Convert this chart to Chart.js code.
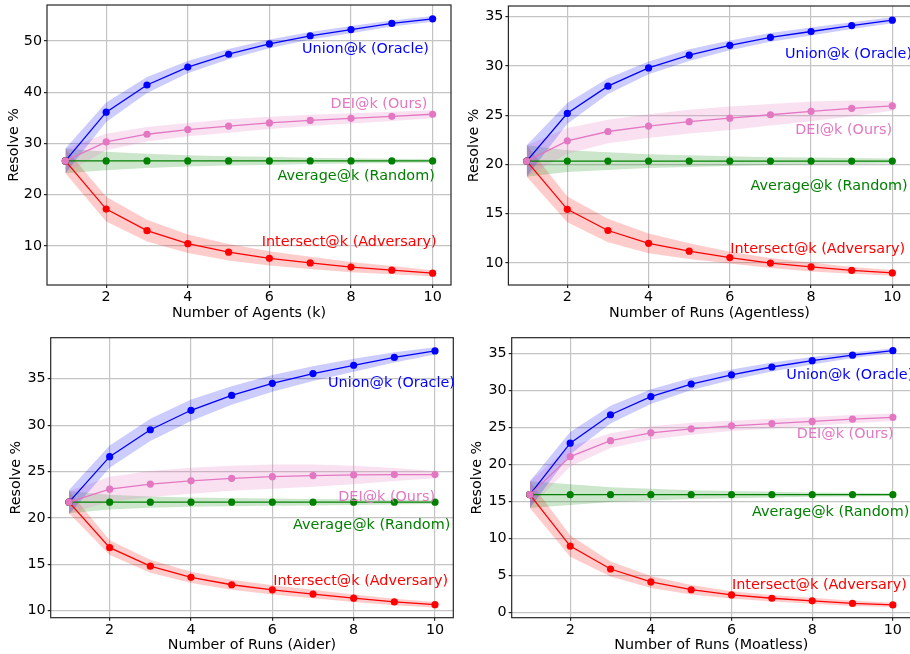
<!DOCTYPE html>
<html>
<head>
<meta charset="utf-8">
<script src="https://cdn.jsdelivr.net/npm/chart.js@4.4.1/dist/chart.umd.min.js"></script>
<style>
  html, body { margin: 0; padding: 0; background: #fff; overflow: hidden; }
  body { width: 910px; height: 654px; position: relative; }
  canvas { position: absolute; }
</style>
</head>
<body>
<canvas id="agents" width="460" height="325" style="left:0;top:0"></canvas>
<canvas id="agentless" width="460" height="325" style="left:455px;top:0"></canvas>
<canvas id="aider" width="460" height="329" style="left:0;top:325px"></canvas>
<canvas id="moatless" width="460" height="329" style="left:455px;top:325px"></canvas>
<script>
// x values and tick labels
const k = [1, 2, 3, 4, 5, 6, 7, 8, 9, 10];
const xTicks = [2, 4, 6, 8, 10];
const seriesNames = ['Union@k (Oracle)', 'DEI@k (Ours)', 'Average@k (Random)', 'Intersect@k (Adversary)'];

// Number of Agents (k)
const agentsUnion = [26.6, 36.1, 41.4, 44.9, 47.4, 49.4, 51.0, 52.2, 53.4, 54.3];
const agentsUnionSd = [2.4, 1.9, 1.55, 1.2, 1.0, 0.85, 0.75, 0.7, 0.6, 0.55];
const agentsDei = [26.6, 30.3, 31.8, 32.7, 33.4, 34.0, 34.5, 34.9, 35.3, 35.7];
const agentsDeiSd = [2.4, 1.6, 1.4, 1.3, 1.3, 1.2, 1.1, 1.0, 0.9, 0.8];
const agentsAvg = [26.6, 26.6, 26.6, 26.6, 26.6, 26.6, 26.6, 26.6, 26.6, 26.6];
const agentsAvgSd = [2.4, 1.8, 1.4, 1.1, 0.9, 0.8, 0.6, 0.5, 0.4, 0.35];
const agentsInter = [26.6, 17.2, 13.0, 10.45, 8.8, 7.6, 6.7, 5.9, 5.3, 4.7];
const agentsInterSd = [2.4, 2.4, 2.1, 1.8, 1.6, 1.4, 1.2, 1.0, 0.8, 0.6];
const agentsYTicks = [10, 20, 30, 40, 50];

// Number of Runs (Agentless)
const agentlessUnion = [20.35, 25.2, 27.95, 29.8, 31.1, 32.1, 32.9, 33.5, 34.1, 34.65];
const agentlessUnionSd = [1.6, 1.05, 0.8, 0.65, 0.6, 0.5, 0.45, 0.4, 0.35, 0.3];
const agentlessDei = [20.35, 22.4, 23.35, 23.9, 24.35, 24.7, 25.05, 25.4, 25.7, 25.95];
const agentlessDeiSd = [1.6, 1.3, 1.2, 1.2, 1.2, 1.2, 1.1, 1.0, 0.8, 0.5];
const agentlessAvg = [20.35, 20.35, 20.35, 20.35, 20.35, 20.35, 20.35, 20.35, 20.35, 20.35];
const agentlessAvgSd = [1.6, 1.1, 0.9, 0.7, 0.6, 0.5, 0.4, 0.35, 0.3, 0.25];
const agentlessInter = [20.35, 15.45, 13.3, 12.0, 11.2, 10.55, 10.0, 9.6, 9.25, 9.0];
const agentlessInterSd = [1.6, 1.3, 1.2, 1.0, 0.8, 0.6, 0.5, 0.45, 0.35, 0.3];
const agentlessYTicks = [10, 15, 20, 25, 30, 35];

// Number of Runs (Aider)
const aiderUnion = [21.7, 26.6, 29.5, 31.6, 33.2, 34.5, 35.55, 36.45, 37.3, 38.0];
const aiderUnionSd = [1.3, 1.2, 1.2, 1.15, 1.0, 0.9, 0.8, 0.7, 0.55, 0.4];
const aiderDei = [21.7, 23.1, 23.65, 24.0, 24.27, 24.45, 24.56, 24.63, 24.67, 24.67];
const aiderDeiSd = [1.2, 1.35, 1.4, 1.4, 1.35, 1.3, 1.2, 1.0, 0.7, 0.4];
const aiderAvg = [21.7, 21.7, 21.7, 21.7, 21.7, 21.7, 21.7, 21.7, 21.7, 21.7];
const aiderAvgSd = [1.2, 0.8, 0.6, 0.5, 0.45, 0.4, 0.35, 0.3, 0.25, 0.2];
const aiderInter = [21.7, 16.8, 14.8, 13.6, 12.8, 12.25, 11.8, 11.35, 10.95, 10.65];
const aiderInterSd = [1.2, 0.8, 0.7, 0.6, 0.55, 0.5, 0.45, 0.4, 0.35, 0.3];
const aiderYTicks = [10, 15, 20, 25, 30, 35];

// Number of Runs (Moatless)
const moatlessUnion = [15.9, 22.85, 26.7, 29.15, 30.85, 32.1, 33.15, 34.0, 34.75, 35.35];
const moatlessUnionSd = [1.8, 1.5, 1.2, 1.0, 0.8, 0.7, 0.6, 0.5, 0.4, 0.3];
const moatlessDei = [15.9, 21.05, 23.2, 24.25, 24.8, 25.2, 25.5, 25.8, 26.1, 26.35];
const moatlessDeiSd = [1.8, 1.35, 1.0, 0.9, 0.8, 0.7, 0.65, 0.6, 0.55, 0.5];
const moatlessAvg = [15.9, 15.9, 15.9, 15.9, 15.9, 15.9, 15.9, 15.9, 15.9, 15.9];
const moatlessAvgSd = [1.8, 1.4, 1.0, 0.8, 0.6, 0.5, 0.4, 0.3, 0.25, 0.2];
const moatlessInter = [15.9, 8.95, 5.85, 4.1, 3.05, 2.35, 1.9, 1.55, 1.2, 1.0];
const moatlessInterSd = [1.8, 1.45, 1.0, 0.8, 0.65, 0.5, 0.45, 0.4, 0.35, 0.3];
const moatlessYTicks = [0, 5, 10, 15, 20, 25, 30, 35];

// colours: union, dei, average, intersect
const lineColors = ['#0000ff', '#e377c2', '#008000', '#ff0000'];
const bandColors = ['rgba(0,0,255,0.2)', 'rgba(227,119,194,0.22)', 'rgba(0,128,0,0.2)', 'rgba(255,0,0,0.2)'];

Chart.defaults.font.family = "'DejaVu Sans', sans-serif";
Chart.defaults.font.size = 14.3;
Chart.defaults.color = '#000';

// black box around the plot area
const framePlugin = {
  id: 'frame',
  afterDatasetsDraw(chart) {
    const a = chart.chartArea, ctx = chart.ctx;
    ctx.save();
    ctx.strokeStyle = '#262626';
    ctx.lineWidth = 1.2;
    ctx.strokeRect(a.left, a.top, a.right - a.left, a.bottom - a.top);
    ctx.restore();
  }
};

// series names written next to the curves
const notePlugin = {
  id: 'notes',
  afterDatasetsDraw(chart, args, opts) {
    const { ctx, scales: { x, y } } = chart;
    ctx.save();
    ctx.font = "14.4px 'DejaVu Sans', sans-serif";
    ctx.textAlign = 'left';
    ctx.textBaseline = 'middle';
    opts.items.forEach((n, i) => {
      ctx.fillStyle = lineColors[i];
      ctx.fillText(seriesNames[i], x.getPixelForValue(n[0]), y.getPixelForValue(n[1]));
    });
    ctx.restore();
  }
};

function pts(values) {
  return values.map((v, i) => ({ x: k[i], y: v }));
}

function makePanel(id, series, sds, yTicks, p) {
  const datasets = [];
  // lines on top (lower order drawn last); DEI topmost
  const lineOrder = [3, 0, 1, 2];
  series.forEach((mean, i) => {
    datasets.push({
      data: pts(mean),
      borderColor: lineColors[i],
      backgroundColor: lineColors[i],
      borderWidth: 1.3,
      pointRadius: 3.6,
      pointBorderWidth: 0,
      fill: false,
      order: lineOrder[i]
    });
  });
  series.forEach((mean, i) => {
    const sd = sds[i];
    datasets.push({
      data: pts(mean.map((m, j) => m + sd[j])),
      borderWidth: 0, pointRadius: 0, fill: false, order: 10 + i
    });
    datasets.push({
      data: pts(mean.map((m, j) => m - sd[j])),
      borderWidth: 0, pointRadius: 0, fill: '-1',
      backgroundColor: bandColors[i], order: 10 + i
    });
  });

  new Chart(document.getElementById(id), {
    type: 'line',
    data: { datasets },
    plugins: [framePlugin, notePlugin],
    options: {
      responsive: false,
      animation: false,
      layout: { padding: { left: 0, top: p.top, right: p.right, bottom: 0 } },
      plugins: {
        legend: { display: false },
        tooltip: { enabled: false },
        notes: { items: p.notes }
      },
      scales: {
        x: {
          type: 'linear',
          min: 0.55,
          max: 10.45,
          afterBuildTicks: s => { s.ticks = xTicks.map(v => ({ value: v })); },
          afterFit: s => { s.height = p.xHeight; s.paddingLeft = 0; s.paddingRight = 0; },
          ticks: { padding: 1, color: '#000' },
          grid: { color: '#c4c4c4', lineWidth: 1.2, tickColor: '#262626', tickLength: 3 },
          border: { display: false },
          title: { display: true, text: p.xTitle, color: '#000', padding: { top: 0, bottom: p.xTitlePad } }
        },
        y: {
          min: p.yMin,
          max: p.yMax,
          afterBuildTicks: s => { s.ticks = yTicks.map(v => ({ value: v })); },
          afterFit: s => { s.width = p.yWidth; s.paddingTop = 0; s.paddingBottom = 0; },
          ticks: { padding: 2, color: '#000' },
          grid: { color: '#c4c4c4', lineWidth: 1.2, tickColor: '#262626', tickLength: 3 },
          border: { display: false },
          title: { display: true, text: 'Resolve %', color: '#000', padding: { top: p.yTitlePad, bottom: 0 } }
        }
      }
    }
  });
}

makePanel('agents',
  [agentsUnion, agentsDei, agentsAvg, agentsInter],
  [agentsUnionSd, agentsDeiSd, agentsAvgSd, agentsInterSd],
  agentsYTicks,
  { top: 5, right: 9, yWidth: 47, xHeight: 40, yMin: 2.4, yMax: 57.0,
    xTitle: 'Number of Agents (k)', xTitlePad: 3.6, yTitlePad: 5.3,
    notes: [[6.80, 48.4], [7.50, 37.65], [6.20, 23.66], [5.81, 10.64]] });

makePanel('agentless',
  [agentlessUnion, agentlessDei, agentlessAvg, agentlessInter],
  [agentlessUnionSd, agentlessDeiSd, agentlessAvgSd, agentlessInterSd],
  agentlessYTicks,
  { top: 6, right: 4.4, yWidth: 53.4, xHeight: 40, yMin: 7.77, yMax: 36.09,
    xTitle: 'Number of Runs (Agentless)', xTitlePad: 3.6, yTitlePad: 10.6,
    notes: [[7.36, 31.21], [7.61, 23.49], [6.51, 17.84], [6.01, 11.42]] });

makePanel('aider',
  [aiderUnion, aiderDei, aiderAvg, aiderInter],
  [aiderUnionSd, aiderDeiSd, aiderAvgSd, aiderInterSd],
  aiderYTicks,
  { top: 12.7, right: 6.7, yWidth: 50.7, xHeight: 36.3, yMin: 9.25, yMax: 39.42,
    xTitle: 'Number of Runs (Aider)', xTitlePad: 0, yTitlePad: 7.9,
    notes: [[7.37, 34.55], [7.62, 22.19], [6.51, 19.21], [6.02, 13.18]] });

makePanel('moatless',
  [moatlessUnion, moatlessDei, moatlessAvg, moatlessInter],
  [moatlessUnionSd, moatlessDeiSd, moatlessAvgSd, moatlessInterSd],
  moatlessYTicks,
  { top: 12.7, right: 1, yWidth: 56.7, xHeight: 36.3, yMin: -0.73, yMax: 37.11,
    xTitle: 'Number of Runs (Moatless)', xTitlePad: 0, yTitlePad: 14.1,
    notes: [[7.36, 32.07], [7.62, 24.05], [6.51, 13.56], [6.01, 3.69]] });
</script>
</body>
</html>
